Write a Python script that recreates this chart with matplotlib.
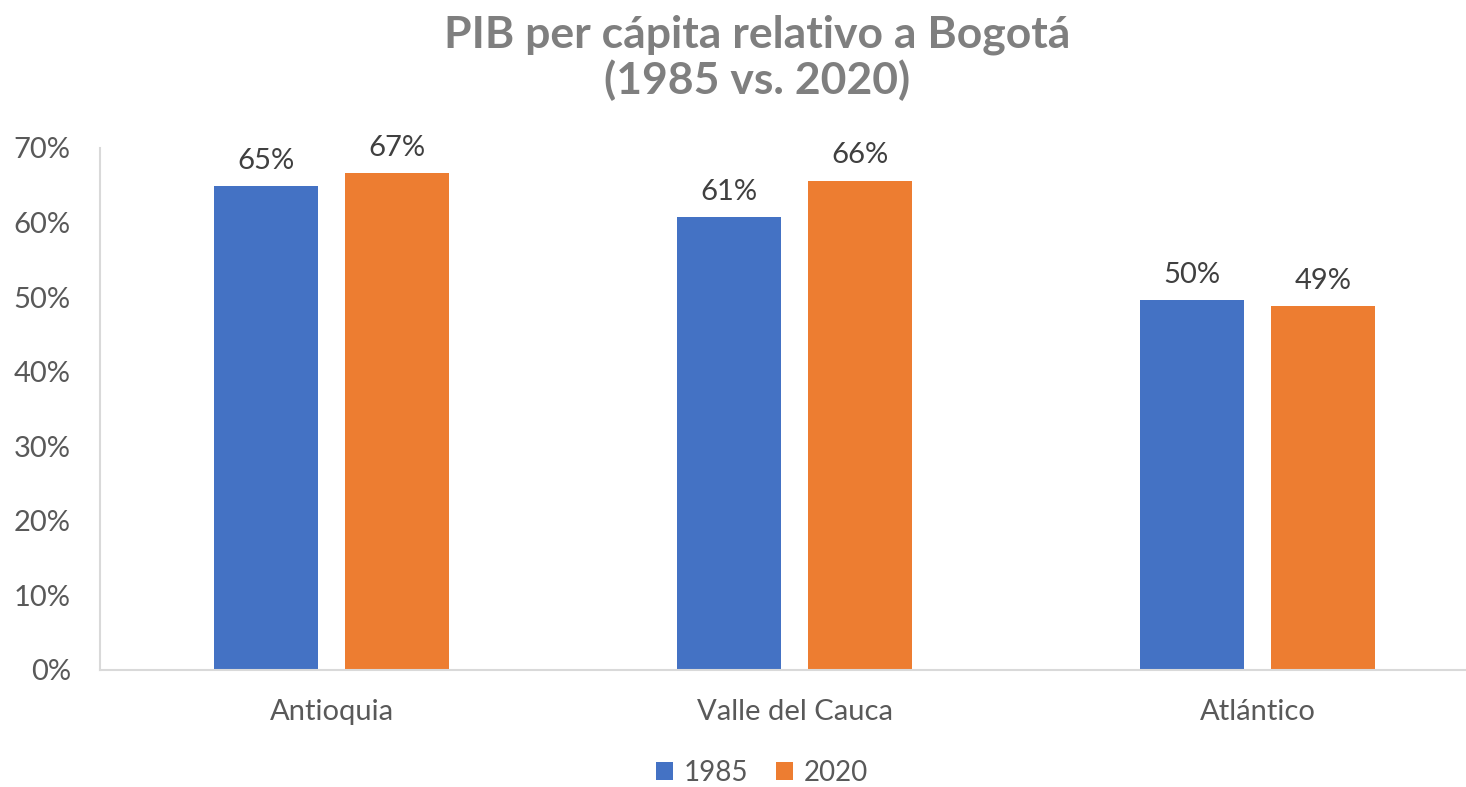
import matplotlib
matplotlib.use("Agg")
from matplotlib import pyplot as plt
import numpy as np

regions = ["Antioquia", "Valle del Cauca", "Atlántico"]
series_names = ["1985", "2020"]
values_1985 = [0.649, 0.607, 0.496]
values_2020 = [0.666, 0.656, 0.488]
yticks = [0.0, 0.1, 0.2, 0.3, 0.4, 0.5, 0.6, 0.7]

blue = "#4472C4"
orange = "#ED7D31"
text_col = "#595959"

plt.rcParams["font.family"] = ["Lato", "DejaVu Sans"]

fig = plt.figure(figsize=(14.66, 7.87), dpi=100)
ax = fig.add_axes([100 / 1466, 1 - 670 / 787, 1 - 100 / 1466, (670 - 148) / 787])

x = np.arange(len(regions))
width = 0.225
offset = 0.1415
bars_a = ax.bar(x - offset, values_1985, width, color=blue, label=series_names[0])
bars_b = ax.bar(x + offset, values_2020, width, color=orange, label=series_names[1])

# etiquetas de datos encima de cada barra
for bars in (bars_a, bars_b):
    for b in bars:
        v = b.get_height()
        ax.annotate("%d%%" % round(v * 100), xy=(b.get_x() + b.get_width() / 2, v),
                    xytext=(0, 9), textcoords="offset points",
                    ha="center", va="bottom", fontsize=21, color="#404040")

ax.set_xlim(-0.5, 2.45)
ax.set_ylim(0, 0.70)
ax.set_yticks(yticks)
ax.set_yticklabels(["%d%%" % round(t * 100) for t in yticks])
ax.set_xticks(x)
ax.set_xticklabels(regions)
ax.tick_params(axis="both", length=0, labelsize=21, labelcolor=text_col)
ax.tick_params(axis="y", pad=21)
ax.tick_params(axis="x", pad=21)

for side in ("top", "right"):
    ax.spines[side].set_visible(False)
for side in ("left", "bottom"):
    ax.spines[side].set_color("#D9D9D9")
    ax.spines[side].set_linewidth(1.5)

fig.suptitle("PIB per cápita relativo a Bogotá\n(1985 vs. 2020)", x=757 / 1466, y=0.982,
             va="top", fontsize=32, fontweight="bold", color="#7F7F7F", linespacing=1.15)

fig.legend(loc="center", bbox_to_anchor=(762 / 1466, 1 - 773 / 787), ncol=2,
           frameon=False, fontsize=20, labelcolor=text_col,
           handlelength=0.6, handleheight=0.6, handletextpad=0.4, columnspacing=1.0)

fig.savefig("out.png", dpi=100)
